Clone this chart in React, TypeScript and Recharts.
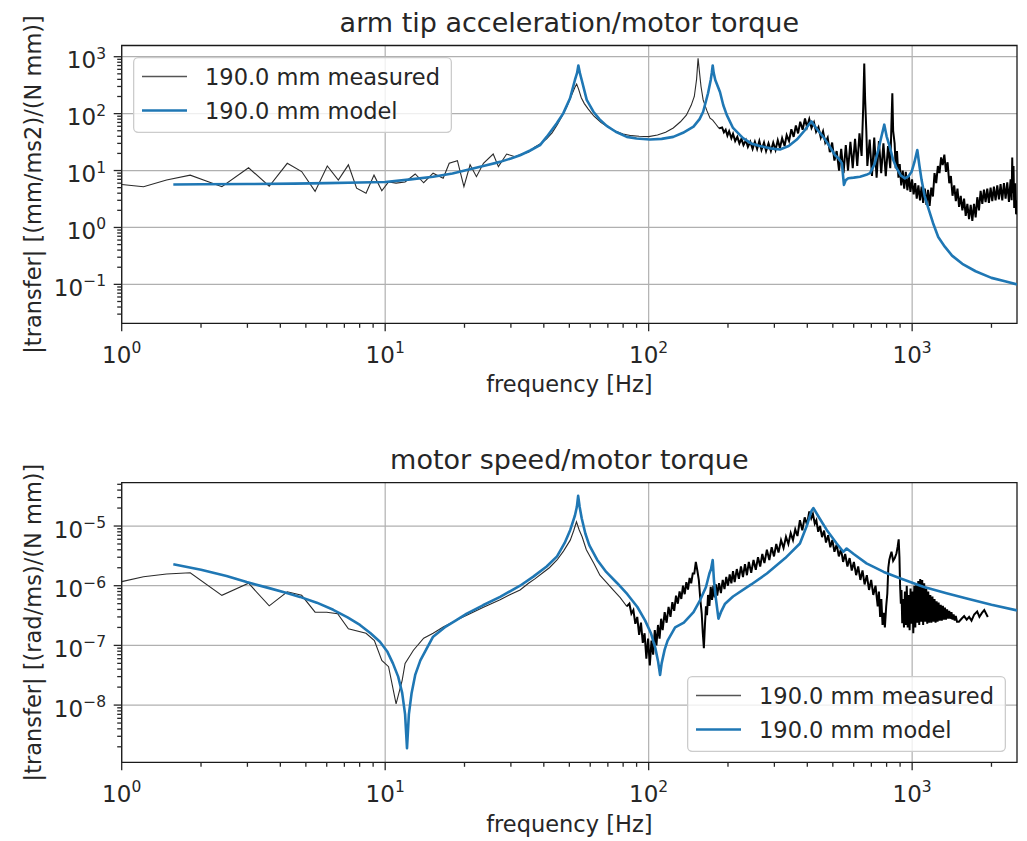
import {
  CartesianGrid,
  Legend,
  Line,
  LineChart,
  ReferenceArea,
  XAxis,
  YAxis,
} from "recharts";

type Pt = [number, number];

const FONT = "DejaVu Sans, Liberation Sans, sans-serif";
const BLUE = "#1f77b4";
const INK = "#262626";

// axes
const xDomain: [number, number] = [1, 2500];
const xMajors = [1, 10, 100, 1000];
const topYDomain: [number, number] = [0.0207, 1574];
const topYMajors = [0.1, 1, 10, 100, 1000];
const bottomYDomain: [number, number] = [1.1e-9, 5.32e-5];
const bottomYMajors = [1e-8, 1e-7, 1e-6, 1e-5];

const seriesNames = ["190.0 mm measured", "190.0 mm model"];

// arm tip acceleration / motor torque, measured  [Hz, |H|]
const accelMeasured: Pt[] = [
  [1.0, 5.7], [1.21, 5.2], [1.48, 6.8], [1.82, 8.3], [2.4, 5.2], [3.03, 11.2], [3.63, 5.3],
  [4.25, 13.4], [4.82, 9.6], [5.42, 4.3], [6.03, 12.0], [6.64, 6.8], [7.25, 12.6], [7.79, 4.9],
  [8.46, 4.0], [9.07, 8.3], [9.71, 4.4], [10.3, 6.3], [11.0, 6.0], [11.9, 6.3], [13.0, 8.7],
  [14.0, 6.1], [15.2, 9.0], [16.6, 7.3], [17.5, 13.4], [18.8, 14.9], [19.9, 5.2], [21.0, 12.6],
  [22.2, 7.8], [23.6, 13.4], [25.7, 19.5], [26.9, 11.7], [28.9, 19.5], [31.1, 17.5], [33, 19.5],
  [35, 21], [37, 26], [39, 30], [41, 36], [43, 46], [45, 64], [47, 92], [49, 135], [51, 210],
  [52.5, 290], [53.3, 330], [54.2, 270], [55.5, 190], [57, 150], [59, 120], [62, 90], [66, 70],
  [70, 58], [75, 49], [80, 44], [86, 41], [92, 40], [100, 39.5], [108, 42], [116, 47], [124, 56],
  [132, 72], [139, 94], [145, 140], [149, 200], [152, 400], [154, 940], [156, 520], [158, 300],
  [161, 174], [166, 115], [171, 83], [175, 77], [180, 65], [185, 55],
  [190, 57], [193, 47], [196, 52], [199, 41], [202, 49], [206, 37], [209, 44], [213, 33],
  [217, 39], [221, 30], [225, 36], [229, 28], [234, 34], [238, 26], [243, 32], [248, 24],
  [253, 32], [258, 24], [263, 33], [268, 23], [274, 31], [279, 22], [285, 30], [291, 22],
  [297, 31], [303, 23], [309, 34], [315, 25], [321, 37], [328, 27], [334, 42], [341, 33],
  [348, 53], [355, 39], [362, 62], [369, 45], [376, 72], [384, 52], [392, 82], [399, 58],
  [407, 80], [415, 56], [424, 70], [432, 48], [441, 58], [450, 38], [459, 49], [468, 31],
  [478, 38], [487, 21], [497, 31], [507, 15], [517, 22], [528, 10], [538, 24], [549, 9],
  [560, 28], [571, 10], [583, 32], [595, 11], [607, 36], [619, 12], [631, 45], [643, 18],
  [652, 130], [658, 760], [663, 180], [670, 50], [676, 12], [690, 35], [704, 8], [718, 38],
  [733, 7.5], [748, 33], [763, 9], [778, 30], [794, 8], [810, 27], [826, 11], [834, 60],
  [841, 228], [847, 50], [858, 30], [866, 11], [876, 22], [887, 7.5], [897, 13], [909, 5.5],
  [921, 10], [933, 4.8], [946, 9.5], [959, 4.5], [972, 8], [985, 4.2], [999, 7], [1013, 3.8],
  [1027, 6], [1041, 3.2], [1056, 5.5], [1071, 3.0], [1086, 5.2], [1101, 2.7], [1117, 4.8],
  [1133, 2.5], [1149, 4.6], [1165, 2.4], [1182, 5], [1199, 3.5], [1216, 9], [1234, 6],
  [1252, 12], [1270, 9], [1288, 17], [1306, 12.5], [1325, 19], [1344, 9.5], [1363, 14],
  [1383, 6], [1403, 8], [1423, 3.6], [1444, 5.5], [1465, 2.9], [1486, 4.8], [1507, 2.3],
  [1529, 3.6], [1551, 2.0], [1574, 3.2], [1597, 1.6], [1620, 2.6], [1644, 1.4], [1668, 2.5],
  [1692, 1.3], [1717, 2.6], [1742, 1.5], [1767, 3.4], [1793, 2.0], [1819, 4.4], [1846, 2.6],
  [1873, 4.6], [1900, 2.8], [1928, 4.8], [1956, 2.7], [1985, 5], [2014, 2.9], [2043, 5.2],
  [2073, 3.0], [2104, 5.5], [2135, 3.1], [2166, 5.8], [2198, 3.0], [2230, 6], [2263, 3.2],
  [2296, 6.2], [2330, 2.8], [2364, 7], [2385, 3], [2398, 17], [2410, 4], [2425, 12],
  [2440, 2.2], [2460, 6], [2480, 1.7], [2500, 3],
];

// arm tip acceleration / motor torque, model
const accelModel: Pt[] = [
  [1.57, 5.7], [2, 5.75], [3, 5.8], [4.5, 5.9], [6, 6.0], [8, 6.15], [10, 6.3], [12.5, 7.0],
  [15.2, 7.8], [18, 8.9], [20.4, 10.2], [24, 12.3], [27.3, 14.2], [30, 16.3], [32.5, 18.6],
  [35.5, 22.5], [38.7, 28], [41, 39], [44.8, 68], [47.4, 101], [50.3, 186], [52.5, 390],
  [53.5, 520], [54.1, 700], [54.8, 520], [55.7, 390], [58.2, 174], [61.7, 108], [65, 80],
  [69.3, 61], [75, 48], [82.6, 39], [90, 36.5], [101, 35], [112, 36], [124, 39], [135, 46],
  [148, 59], [156, 80], [161, 108], [168, 228], [172, 390], [173.6, 520], [175, 700],
  [176.5, 520], [179, 390], [186.5, 240], [192, 140], [198, 94], [209, 56], [228, 37],
  [245, 30], [264, 27], [290, 24.5], [315, 23.5], [340, 27], [365, 35], [390, 50], [405, 64],
  [415, 73], [425, 62], [440, 50], [460, 39], [485, 27], [510, 18.6], [525, 16.5], [541, 13.5],
  [551, 5.6], [560, 6.8], [572, 7.3], [600, 7.5], [634, 7.8], [670, 8.4], [692, 9.0], [720, 13],
  [744, 23], [765, 40], [784, 64], [800, 40], [819, 28], [845, 16], [873, 11], [905, 8.2],
  [939, 7.3], [970, 8], [995, 9.5], [1020, 14], [1046, 23], [1066, 12], [1086, 6.8],
  [1115, 3.6], [1151, 2.2], [1200, 1.2], [1256, 0.68], [1330, 0.46], [1417, 0.32],
  [1550, 0.23], [1741, 0.17], [2000, 0.13], [2250, 0.113], [2500, 0.1],
];

// motor speed / motor torque, measured
const speedMeasured: Pt[] = [
  [1.0, 1.17e-6], [1.21, 1.41e-6], [1.48, 1.57e-6], [1.82, 1.65e-6], [2.4, 6.9e-7], [3.03, 1.1e-6],
  [3.63, 4.6e-7], [4.25, 7.9e-7], [4.82, 6.9e-7], [5.42, 3.6e-7], [6.0, 3.6e-7], [6.6, 3.4e-7],
  [7.25, 1.9e-7], [8.46, 1.6e-7], [9.1, 1.2e-7], [9.71, 5.6e-8], [10.3, 4.4e-8], [11.0, 1.05e-8],
  [11.6, 2.6e-8], [11.9, 5.0e-8], [12.8, 8.3e-8], [14.0, 1.32e-7], [15.2, 1.6e-7], [16.6, 2.04e-7],
  [18.5, 2.6e-7], [20.4, 3.2e-7], [23.5, 4.3e-7], [27.3, 5.8e-7], [30, 7.2e-7], [32.5, 8.5e-7],
  [35, 1.1e-6], [37, 1.3e-6], [40, 1.7e-6], [42, 2.0e-6], [44.9, 2.7e-6], [47.5, 3.8e-6],
  [50.4, 5.8e-6], [52, 8.5e-6], [53.2, 1.18e-5], [54.5, 8.6e-6], [55.9, 6.6e-6], [58, 4.0e-6],
  [61.9, 2.37e-6], [65.3, 1.5e-6], [69, 1.15e-6], [73.3, 8.5e-7], [78, 6.3e-7], [82.6, 4.5e-7],
  [84.5, 5.0e-7], [86, 3.4e-7], [87.5, 3.9e-7], [89, 2.3e-7], [90.5, 3.0e-7], [92, 1.5e-7],
  [93.5, 2.4e-7], [95, 1.1e-7], [96.5, 1.6e-7], [98, 6e-8], [99.5, 1.3e-7], [101, 4.6e-8],
  [102.5, 1.2e-7], [104, 7e-8], [105.5, 1.8e-7], [107, 1.0e-7], [108.5, 2.2e-7], [110, 1.3e-7],
  [111.5, 2.8e-7], [113, 1.8e-7], [115, 3.6e-7], [117, 2.4e-7], [119, 4.4e-7], [121, 3.0e-7],
  [123, 5.3e-7], [125, 3.8e-7], [127, 6.8e-7], [129, 5.0e-7], [131, 8.0e-7], [133, 6.0e-7],
  [135, 1.0e-6], [137, 7.2e-7], [139, 1.15e-6], [141, 8.6e-7], [143, 1.35e-6], [145, 1.1e-6],
  [147, 1.6e-6], [149, 1.6e-6], [151, 2.5e-6], [153, 1.8e-6], [155, 1.25e-6], [157, 6e-7],
  [159, 3.4e-7], [160.5, 1.6e-7], [162, 9e-8], [163.5, 2.2e-7], [165, 4.5e-7], [166.5, 3.2e-7],
  [168, 7.0e-7], [170, 4.6e-7], [172, 9.6e-7], [174, 5.8e-7], [176, 1.0e-6], [178, 6.4e-7],
  [180, 1.05e-6], [182, 6.8e-7], [185, 1.1e-6], [188, 7.5e-7], [191, 1.25e-6], [194, 8.8e-7],
  [197, 1.4e-6], [200, 1.0e-6], [203, 1.55e-6], [206, 1.1e-6], [209, 1.75e-6], [212, 1.15e-6],
  [216, 1.9e-6], [220, 1.3e-6], [224, 2.1e-6], [228, 1.4e-6], [232, 2.3e-6], [236, 1.5e-6],
  [240, 2.5e-6], [245, 1.65e-6], [250, 2.7e-6], [255, 1.85e-6], [260, 3.0e-6], [265, 2.1e-6],
  [270, 3.4e-6], [275, 2.4e-6], [281, 4.0e-6], [287, 2.7e-6], [293, 4.4e-6], [299, 3.1e-6],
  [305, 5.0e-6], [311, 3.6e-6], [318, 5.8e-6], [325, 4.3e-6], [332, 6.6e-6], [339, 5.0e-6],
  [346, 7.6e-6], [353, 5.8e-6], [360, 8.8e-6], [367, 6.8e-6], [375, 1.25e-5], [383, 8.5e-6],
  [391, 1.4e-5], [399, 1.05e-5], [407, 1.75e-5], [414, 1.35e-5], [420, 1.6e-5], [427, 1.1e-5],
  [433, 1.25e-5], [440, 8.0e-6], [447, 1.0e-5], [455, 6.5e-6], [463, 8.4e-6], [471, 5.3e-6],
  [480, 7.0e-6], [489, 4.4e-6], [498, 5.8e-6], [507, 3.7e-6], [517, 4.9e-6], [527, 3.1e-6],
  [537, 4.1e-6], [547, 2.5e-6], [557, 3.4e-6], [568, 2.1e-6], [579, 2.9e-6], [590, 1.8e-6],
  [601, 2.5e-6], [613, 1.5e-6], [624, 2.1e-6], [636, 1.25e-6], [648, 1.8e-6], [660, 1.05e-6],
  [673, 1.5e-6], [686, 8.5e-7], [699, 1.25e-6], [712, 7.0e-7], [726, 1.0e-6], [740, 4.5e-7],
  [748, 8e-7], [756, 3.0e-7], [764, 6e-7], [772, 2.2e-7], [780, 3.5e-7], [788, 2.0e-7],
  [797, 4.5e-7], [805, 7.4e-7], [812, 2.0e-6], [819, 2.7e-6], [827, 3.2e-6], [835, 3.7e-6],
  [847, 2.6e-6], [859, 2.9e-6], [872, 3.5e-6], [881, 4.5e-6], [889, 6.0e-6], [895, 3.0e-6],
  [900, 1.0e-6], [906, 5e-7], [911, 8.5e-7], [917, 2.35e-7], [924, 6e-7], [931, 2.0e-7],
  [939, 8e-7], [946, 2.2e-7], [954, 1.0e-6], [962, 2.0e-7], [970, 7e-7], [978, 1.8e-7],
  [986, 9e-7], [994, 2.3e-7], [1002, 8e-7], [1010, 1.6e-7], [1019, 1.0e-6], [1028, 2.0e-7],
  [1037, 1.1e-6], [1046, 2.4e-7], [1055, 1.2e-6], [1064, 2.2e-7], [1073, 1.3e-6], [1082, 2.5e-7],
  [1092, 1.25e-6], [1101, 2.2e-7], [1111, 1.1e-6], [1121, 2.5e-7], [1131, 9e-7], [1141, 2.3e-7],
  [1151, 8e-7], [1161, 2.4e-7], [1172, 7e-7], [1183, 2.4e-7], [1194, 6.6e-7], [1205, 2.5e-7],
  [1216, 6e-7], [1227, 2.4e-7], [1238, 5.5e-7], [1249, 2.5e-7], [1260, 5.2e-7], [1272, 2.6e-7],
  [1284, 4.8e-7], [1296, 2.6e-7], [1308, 4.6e-7], [1320, 2.7e-7], [1332, 4.3e-7], [1344, 2.7e-7],
  [1357, 4.0e-7], [1370, 2.8e-7], [1383, 3.8e-7], [1396, 2.8e-7], [1410, 3.6e-7], [1423, 2.7e-7],
  [1437, 3.3e-7], [1450, 2.6e-7], [1464, 3.1e-7], [1480, 2.5e-7], [1505, 2.5e-7], [1540, 2.8e-7],
  [1575, 3.1e-7], [1611, 2.7e-7], [1645, 3.0e-7], [1680, 2.6e-7], [1720, 3.3e-7], [1765, 3.7e-7],
  [1800, 3.0e-7], [1840, 3.5e-7], [1878, 3.9e-7], [1937, 3.0e-7],
];

// motor speed / motor torque, model
const speedModel: Pt[] = [
  [1.57, 2.28e-6], [2.0, 1.85e-6], [2.5, 1.45e-6], [2.98, 1.15e-6], [3.6, 9.2e-7], [4.2, 7.6e-7],
  [4.75, 6.5e-7], [5.5, 5.2e-7], [6.35, 3.95e-7], [7.2, 2.95e-7], [8.02, 2.2e-7], [8.8, 1.6e-7],
  [9.55, 1.15e-7], [10.2, 7.8e-8], [10.7, 5.0e-8], [11.2, 3.0e-8], [11.6, 1.6e-8], [11.9, 7e-9],
  [12.1, 1.9e-9], [12.3, 7e-9], [12.6, 1.6e-8], [13.0, 3.2e-8], [13.6, 5.6e-8], [14.3, 8.5e-8],
  [15.2, 1.4e-7], [16.8, 2.0e-7], [18.5, 2.6e-7], [20.4, 3.4e-7], [23.5, 4.7e-7], [27.3, 6.5e-7],
  [32.5, 1.0e-6], [36.5, 1.42e-6], [41, 2.1e-6], [44.9, 3.1e-6], [48, 5.2e-6], [50.4, 8.6e-6],
  [52.5, 1.5e-5], [53.4, 2.1e-5], [54.0, 3.2e-5], [54.7, 2.1e-5], [55.7, 1.35e-5], [57.5, 7.5e-6],
  [59.5, 4.8e-6], [63.8, 2.7e-6], [69, 1.7e-6], [76, 1.1e-6], [83, 7.2e-7], [90.6, 4.4e-7],
  [97, 2.6e-7], [102, 1.6e-7], [106, 9e-8], [108.5, 5.5e-8], [110.5, 3.2e-8], [112, 5e-8],
  [115, 8.5e-8], [118, 1.2e-7], [126, 2.0e-7], [136, 2.4e-7], [148, 3.6e-7], [157, 5.8e-7],
  [165, 9.5e-7], [170, 1.6e-6], [172.5, 1.9e-6], [175, 2.7e-6], [177, 1.2e-6], [180, 6e-7],
  [184, 2.8e-7], [188, 3.6e-7], [195, 5e-7], [209, 6.6e-7], [245, 1.05e-6], [281, 1.6e-6],
  [330, 2.9e-6], [375, 5.1e-6], [398, 1.0e-5], [415, 1.8e-5], [422, 2.0e-5], [445, 1.35e-5],
  [474, 8.6e-6], [517, 5.1e-6], [548, 3.7e-6], [564, 4.2e-6], [600, 3.4e-6], [671, 2.37e-6],
  [780, 1.7e-6], [899, 1.33e-6], [1101, 9.6e-7], [1350, 7.5e-7], [1611, 6.1e-7], [2000, 4.8e-7],
  [2500, 3.85e-7],
];

// where the measured trace turns into a dense noise band
const accelNoiseFrom = 185;
const speedNoiseFrom = 82.6;

function logTicks(domain: [number, number]) {
  const out: number[] = [];
  const lo = Math.floor(Math.log10(domain[0]));
  const hi = Math.ceil(Math.log10(domain[1]));
  for (let e = lo; e <= hi; e++) {
    for (let k = 1; k <= 9; k++) {
      const v = k * Math.pow(10, e);
      if (v >= domain[0] && v <= domain[1]) out.push(v);
    }
  }
  return out;
}

const expOf = (v: number) => {
  const e = Math.log10(v);
  return Math.abs(e - Math.round(e)) < 1e-6 ? Math.round(e) : null;
};
const expText = (e: number) => (e < 0 ? "\u2212" + Math.abs(e) : String(e));

function XTick(props: any) {
  const { x, y, payload } = props;
  const e = expOf(payload.value);
  return (
    <g>
      <line x1={x} x2={x} y1={y} y2={y + (e !== null ? 8 : 4.5)} stroke={INK} strokeWidth={1.3} />
      {e !== null && (
        <text x={x} y={y + 40} textAnchor="middle" fontFamily={FONT} fontSize={23} fill={INK}>
          10
          <tspan dy={-10} fontSize={15.5}>{expText(e)}</tspan>
        </text>
      )}
    </g>
  );
}

function YTick(props: any) {
  const { x, y, payload } = props;
  const e = expOf(payload.value);
  return (
    <g>
      <line x1={x} x2={x - (e !== null ? 8 : 4.5)} y1={y} y2={y} stroke={INK} strokeWidth={1.3} />
      {e !== null && (
        <text x={x - 15.7} y={y + 11.5} textAnchor="end" fontFamily={FONT} fontSize={23} fill={INK}>
          10
          <tspan dy={-9.5} fontSize={15.5}>{expText(e)}</tspan>
        </text>
      )}
    </g>
  );
}

function LegendBox(props: any) {
  const items = (props.payload || [])
    .filter((it: any) => seriesNames.includes(it.value))
    .sort((a: any, b: any) => seriesNames.indexOf(a.value) - seriesNames.indexOf(b.value));
  return (
    <svg width={319} height={76} style={{ display: "block" }}>
      <rect x={0.65} y={0.65} width={317.7} height={74.7} rx={4.5} fill="#fff" fillOpacity={0.8} stroke="#cccccc" strokeWidth={1.3} />
      {items.map((it: any, i: number) => {
        const base = 28 + i * 34;
        return (
          <g key={it.value}>
            <line
              x1={9}
              x2={54}
              y1={base - 8.5}
              y2={base - 8.5}
              stroke={it.color === BLUE ? BLUE : "#555"}
              strokeWidth={it.color === BLUE ? 2.6 : 1.3}
            />
            <text x={72} y={base} fontFamily={FONT} fontSize={22.5} fill={INK}>
              {it.value}
            </text>
          </g>
        );
      })}
    </svg>
  );
}

type PanelProps = {
  measured: Pt[];
  model: Pt[];
  noiseFrom: number;
  yDomain: [number, number];
  yMajors: number[];
  height: number;
  plotTop: number;
  plotBottom: number;
  legendLeft: number;
  legendTop: number;
};

function Panel({ measured, model, noiseFrom, yDomain, yMajors, height, plotTop, plotBottom, legendLeft, legendTop }: PanelProps) {
  const rows = (pts: Pt[]) => pts.map(([f, v]) => ({ f, v }));
  const quietRows = rows(measured.filter(([f]) => f <= noiseFrom));
  const noisyRows = rows(measured.filter(([f]) => f >= noiseFrom));
  const modelRows = rows(model);
  return (
    <LineChart
      width={1027}
      height={height}
      margin={{ top: plotTop, right: 10, bottom: height - plotBottom - 40, left: 121.7 - 80 }}
    >
      <CartesianGrid horizontalValues={yMajors} verticalValues={xMajors} stroke="#b0b0b0" strokeWidth={1.2} />
      <XAxis
        type="number"
        dataKey="f"
        scale="log"
        domain={xDomain}
        allowDataOverflow
        ticks={logTicks(xDomain)}
        interval={0}
        height={40}
        axisLine={false}
        tickLine={false}
        tickSize={0}
        tickMargin={0}
        tick={(p: any) => <XTick {...p} />}
      />
      <YAxis
        type="number"
        scale="log"
        domain={yDomain}
        allowDataOverflow
        ticks={logTicks(yDomain)}
        interval={0}
        width={80}
        axisLine={false}
        tickLine={false}
        tickSize={0}
        tickMargin={0}
        tick={(p: any) => <YTick {...p} />}
      />
      <Line
        data={quietRows}
        dataKey="v"
        name={seriesNames[0]}
        stroke="#2b2b2b"
        strokeWidth={1.1}
        dot={false}
        activeDot={false}
        isAnimationActive={false}
      />
      <Line
        data={noisyRows}
        dataKey="v"
        name="measured (dense)"
        legendType="none"
        stroke="#000"
        strokeWidth={2}
        strokeLinejoin="miter"
        dot={false}
        activeDot={false}
        isAnimationActive={false}
      />
      <Line
        data={modelRows}
        dataKey="v"
        name={seriesNames[1]}
        stroke={BLUE}
        strokeWidth={2.6}
        strokeLinejoin="round"
        dot={false}
        activeDot={false}
        isAnimationActive={false}
      />
      <ReferenceArea
        x1={xDomain[0]}
        x2={xDomain[1]}
        y1={yDomain[0]}
        y2={yDomain[1]}
        fill="none"
        fillOpacity={0}
        stroke="#1a1a1a"
        strokeWidth={1.3}
        ifOverflow="visible"
      />
      <Legend
        layout="vertical"
        align="center"
        verticalAlign="middle"
        content={(p: any) => <LegendBox {...p} />}
        wrapperStyle={{ left: legendLeft, top: legendTop, width: 319, height: 76 }}
      />
    </LineChart>
  );
}

export default function App() {
  const cx = (121.7 + 1017) / 2;
  return (
    <div style={{ position: "absolute", left: 0, top: 0, width: 1027, height: 841, background: "#fff" }}>
      <div style={{ position: "absolute", left: 0, top: 0 }}>
        <Panel
          measured={accelMeasured}
          model={accelModel}
          noiseFrom={accelNoiseFrom}
          yDomain={topYDomain}
          yMajors={topYMajors}
          height={420}
          plotTop={45.5}
          plotBottom={323.3}
          legendLeft={133}
          legendTop={57}
        />
      </div>
      <div style={{ position: "absolute", left: 0, top: 420 }}>
        <Panel
          measured={speedMeasured}
          model={speedModel}
          noiseFrom={speedNoiseFrom}
          yDomain={bottomYDomain}
          yMajors={bottomYMajors}
          height={421}
          plotTop={62.7}
          plotBottom={342.3}
          legendLeft={686.5}
          legendTop={255.5}
        />
      </div>
      <svg
        width={1027}
        height={841}
        style={{ position: "absolute", left: 0, top: 0, pointerEvents: "none" }}
        fontFamily={FONT}
        fill={INK}
      >
        <text x={cx} y={32} textAnchor="middle" fontSize={27}>arm tip acceleration/motor torque</text>
        <text x={cx} y={469.3} textAnchor="middle" fontSize={27}>motor speed/motor torque</text>
        <text x={cx} y={392.3} textAnchor="middle" fontSize={22.5}>frequency [Hz]</text>
        <text x={cx} y={831.5} textAnchor="middle" fontSize={22.5}>frequency [Hz]</text>
        <text transform="translate(40.5,184.4) rotate(-90)" textAnchor="middle" fontSize={22.5}>
          |transfer| [(mm/ms2)/(N mm)]
        </text>
        <text transform="translate(40.5,622.5) rotate(-90)" textAnchor="middle" fontSize={22.5}>
          |transfer| [(rad/ms)/(N mm)]
        </text>
      </svg>
    </div>
  );
}
